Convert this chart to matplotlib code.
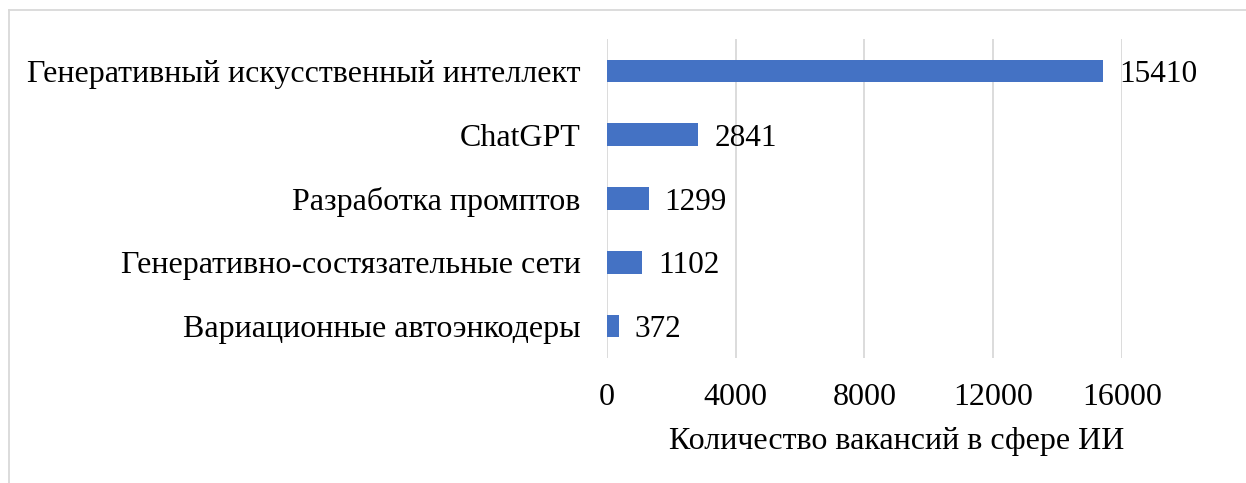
import matplotlib.pyplot as plt
from matplotlib.lines import Line2D

# данные
categories = ['Генеративный искусственный интеллект', 'ChatGPT', 'Разработка промптов',
              'Генеративно-состязательные сети', 'Вариационные автоэнкодеры']
values = [15410, 2841, 1299, 1102, 372]
xticks = [0, 4000, 8000, 12000, 16000]

plt.rcParams['font.family'] = ['Liberation Serif', 'DejaVu Serif']
fs = 23

fig = plt.figure(figsize=(12.46, 4.83), dpi=100)
ax = fig.add_axes([0.487, 0.259, 0.4135, 0.660])

y = list(range(len(categories)))
ax.barh(y, values, height=0.355, color='#4472C4', zorder=3)
ax.set_ylim(len(categories) - 0.5, -0.5)
ax.set_xlim(0, 16000)
ax.set_yticks(y)
ax.set_yticklabels(categories, fontsize=fs, va='center_baseline')
ax.set_xticks(xticks)
ax.set_xticklabels([str(t) for t in xticks], fontsize=fs)
ax.tick_params(length=0)
ax.tick_params(axis='y', pad=19)
ax.tick_params(axis='x', pad=18)
ax.grid(axis='x', color='#D9D9D9', linewidth=1.3, zorder=0)
for s in ax.spines.values():
    s.set_visible(False)

# подписи значений
for yi, v in zip(y, values):
    ax.annotate(str(v), (v, yi), xytext=(11.5, 0), textcoords='offset points',
                va='center_baseline', ha='left', fontsize=22.5)

ax.set_xlabel('Количество вакансий в сфере ИИ', fontsize=fs)
ax.xaxis.set_label_coords(0.563, -0.25)
ax.xaxis.label.set_va('center_baseline')

# рамка
fig.add_artist(Line2D([9 / 1246, 1], [1 - 10 / 483, 1 - 10 / 483], color='#D9D9D9', lw=1.3))
fig.add_artist(Line2D([9 / 1246, 9 / 1246], [0, 1 - 10 / 483], color='#D9D9D9', lw=1.3))

fig.savefig('out.png', dpi=100, facecolor='white')
